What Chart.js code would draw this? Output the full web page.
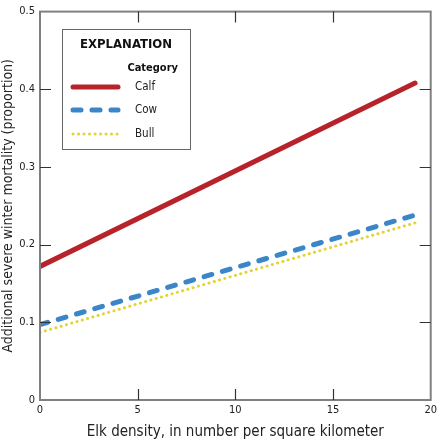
<!DOCTYPE html>
<html>
<head>
<meta charset="utf-8">
<script src="https://cdn.jsdelivr.net/npm/chart.js@4"></script>
<style>
  html, body { margin: 0; padding: 0; background: #fff; }
  #wrap { width: 441px; height: 441px; }
</style>
</head>
<body>
<div id="wrap"><canvas id="elkChart"></canvas></div>
<script>
const densityX = [0, 19.2];
const calfValues = [0.172, 0.408];
const cowValues = [0.097, 0.238];
const bullValues = [0.087, 0.228];
const xTicks = [0, 5, 10, 15, 20];
const yTicks = [0, 0.1, 0.2, 0.3, 0.4, 0.5];

const FONT = "'Liberation Sans Narrow', 'DejaVu Sans Condensed', sans-serif";

const toPoints = (vals) => vals.map((v, i) => ({ x: densityX[i], y: v }));

// inward ticks on all four sides plus the frame, and the boxed legend
const framePlugin = {
    id: 'frame',
    afterDatasetsDraw(chart) {
        const { ctx, chartArea: a, scales } = chart;
        ctx.save();
        ctx.strokeStyle = '#808080';
        ctx.lineWidth = 2;
        ctx.strokeRect(a.left, a.top, a.right - a.left, a.bottom - a.top);
        ctx.strokeStyle = '#333';
        ctx.lineWidth = 1.2;
        const len = 11;
        xTicks.forEach(t => {
            const px = Math.round(scales.x.getPixelForValue(t)) + 0.5;
            if (t === 0 || t === 20) return;
            ctx.beginPath();
            ctx.moveTo(px, a.bottom); ctx.lineTo(px, a.bottom - len);
            ctx.moveTo(px, a.top); ctx.lineTo(px, a.top + len);
            ctx.stroke();
        });
        yTicks.forEach(t => {
            const py = Math.round(scales.y.getPixelForValue(t)) + 0.5;
            if (t === 0 || t === 0.5) return;
            ctx.beginPath();
            ctx.moveTo(a.left, py); ctx.lineTo(a.left + len, py);
            ctx.moveTo(a.right, py); ctx.lineTo(a.right - len, py);
            ctx.stroke();
        });

        // legend box
        const bx = 62, by = 29, bw = 128, bh = 120;
        ctx.fillStyle = '#fff';
        ctx.fillRect(bx, by, bw, bh);
        ctx.strokeStyle = '#666';
        ctx.lineWidth = 1;
        ctx.strokeRect(bx + 0.5, by + 0.5, bw, bh);
        ctx.fillStyle = '#111';
        ctx.textBaseline = 'middle';
        ctx.textAlign = 'center';
        ctx.font = 'bold 13px ' + FONT;
        ctx.fillText('EXPLANATION', 126, 45);
        ctx.textAlign = 'right';
        ctx.font = 'bold 11px ' + FONT;
        ctx.fillText('Category', 178, 68);
        ctx.textAlign = 'left';
        ctx.font = '11.5px ' + FONT;
        const rows = [87, 110, 134];
        chart.data.datasets.forEach((ds, i) => {
            const y = rows[i];
            ctx.beginPath();
            ctx.strokeStyle = ds.borderColor;
            ctx.lineWidth = ds.borderWidth;
            ctx.lineCap = 'round';
            ctx.setLineDash(ds.borderDash || []);
            ctx.moveTo(73, y); ctx.lineTo(118, y);
            ctx.stroke();
            ctx.setLineDash([]);
            ctx.fillStyle = '#222';
            ctx.fillText(ds.label, 135, y);
        });
        ctx.restore();
    },
};

new Chart(document.getElementById('elkChart'), {
    type: 'scatter',
    data: {
        datasets: [{
            label: 'Calf',
            data: toPoints(calfValues),
            showLine: true,
            borderColor: '#b8232b',
            borderWidth: 5,
            pointRadius: 0,
            borderCapStyle: 'round',
        }, {
            label: 'Cow',
            data: toPoints(cowValues),
            showLine: true,
            borderColor: '#3a86c9',
            borderWidth: 5,
            borderDash: [8, 11],
            borderCapStyle: 'round',
            pointRadius: 0,
        }, {
            label: 'Bull',
            data: toPoints(bullValues),
            showLine: true,
            borderColor: '#e3d335',
            borderWidth: 3,
            borderDash: [0.1, 5.4],
            borderCapStyle: 'round',
            pointRadius: 0,
        }],
    },
    options: {
        responsive: true,
        maintainAspectRatio: false,
        animation: false,
        layout: { padding: { top: 8, right: 8, left: 0, bottom: 0 } },
        plugins: {
            legend: { display: false },
            tooltip: { enabled: false },
        },
        scales: {
            x: {
                type: 'linear',
                min: 0,
                max: 20,
                afterBuildTicks: (s) => { s.ticks = xTicks.map(v => ({ value: v })); },
                afterFit: (s) => { s.height = 41; },
                grid: { display: false, drawTicks: false, tickLength: 0 },
                border: { display: false },
                ticks: {
                    padding: 4,
                    color: '#222',
                    font: { family: FONT, size: 11 },
                    maxRotation: 0,
                },
                title: {
                    display: true,
                    text: 'Elk density, in number per square kilometer',
                    color: '#222',
                    font: { family: FONT, size: 15 },
                    padding: { top: 2, bottom: 0 },
                },
            },
            y: {
                min: 0,
                max: 0.5,
                afterBuildTicks: (s) => { s.ticks = yTicks.map(v => ({ value: v })); },
                afterFit: (s) => { s.width = 40; },
                grid: { display: false, drawTicks: false, tickLength: 0 },
                border: { display: false },
                ticks: {
                    padding: 5,
                    color: '#222',
                    font: { family: FONT, size: 11 },
                },
                title: {
                    display: true,
                    text: 'Additional severe winter mortality (proportion)',
                    color: '#222',
                    font: { family: FONT, size: 14 },
                    padding: { top: 0, bottom: 2 },
                },
            },
        },
    },
    plugins: [framePlugin],
});
</script>
</body>
</html>
